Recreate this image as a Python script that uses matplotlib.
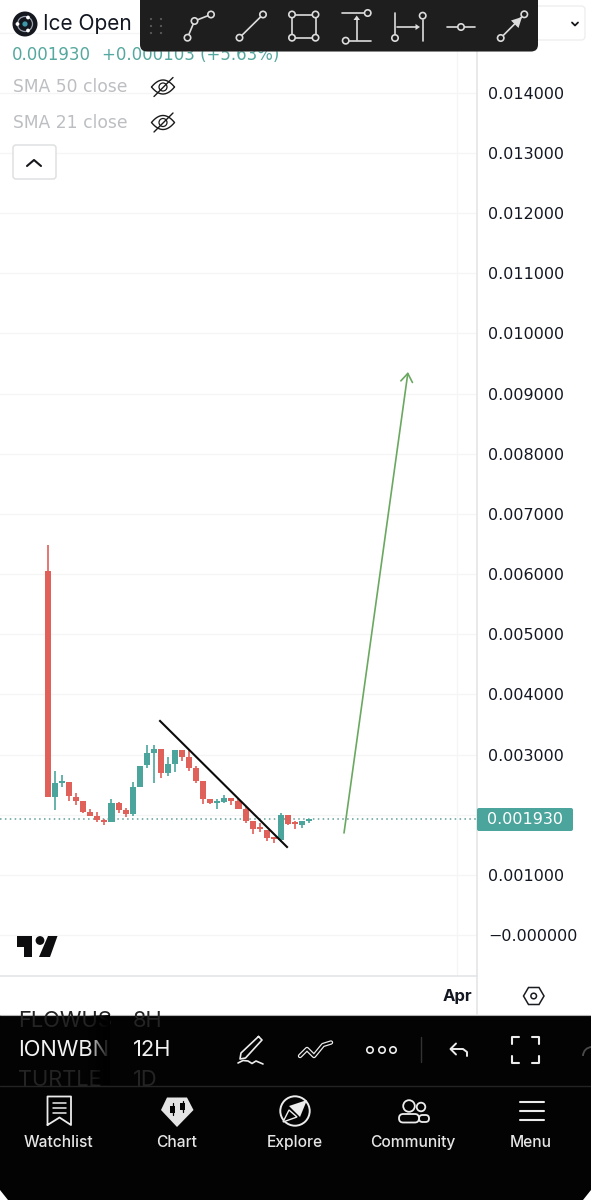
import numpy as np
import matplotlib
matplotlib.use("Agg")
import matplotlib.pyplot as plt
from matplotlib.patches import Circle, FancyBboxPatch, Polygon, Rectangle, Arc

plt.rcParams['font.family'] = ['Inter', 'DejaVu Sans']

W, H = 591, 1200

# candles, prices in thousandths
opens = [6.056, 2.294, 2.527, 2.549, 2.299, 2.233, 2.045, 1.983, 1.912, 1.879,
         2.199, 2.078, 2.012, 2.455, 2.821, 3.031, 3.092, 2.688, 2.838, 3.076,
         2.959, 2.781, 2.565, 2.266, 2.199, 2.206, 2.273, 2.233, 2.100, 1.900,
         1.774, 1.751, 1.608, 1.574, 1.990, 1.857, 1.829, 1.900]
highs = [6.484, 2.727, 2.660, 2.549, 2.361, 2.233, 2.095, 2.045, 1.933, 2.261,
         2.216, 2.116, 2.544, 2.815, 3.159, 3.159, 3.092, 2.964, 3.076, 3.076,
         3.092, 2.815, 2.565, 2.266, 2.266, 2.322, 2.273, 2.256, 2.145, 1.900,
         1.857, 1.751, 1.608, 2.023, 1.990, 1.895, 1.895, 1.929]
lows = [2.294, 2.078, 2.461, 2.228, 2.161, 2.028, 1.978, 1.879, 1.834, 1.879,
        2.033, 1.967, 1.978, 2.455, 2.776, 2.532, 2.615, 2.643, 2.715, 2.893,
        2.731, 2.522, 2.178, 2.178, 2.100, 2.190, 2.166, 2.090, 1.862, 1.679,
        1.717, 1.568, 1.525, 1.551, 1.824, 1.757, 1.779, 1.857]
closes = [2.294, 2.527, 2.549, 2.311, 2.233, 2.045, 1.983, 1.917, 1.874, 2.199,
          2.078, 2.012, 2.455, 2.815, 3.026, 3.097, 2.688, 2.838, 3.076, 2.964,
          2.781, 2.565, 2.261, 2.190, 2.216, 2.273, 2.233, 2.100, 1.900, 1.767,
          1.757, 1.608, 1.591, 1.990, 1.845, 1.840, 1.895, 1.929]

last_price = 1.930
price_ticks = [0, 1, 2, 3, 4, 5, 6, 7, 8, 9, 10, 11, 12, 13, 14]
# the 0.002 label sits behind the last price tag
price_labels = ['\u22120.000000', '0.001000', '', '0.003000', '0.004000',
                '0.005000', '0.006000', '0.007000', '0.008000', '0.009000',
                '0.010000', '0.011000', '0.012000', '0.013000', '0.014000']
month_tick = 58
month_label = 'Apr'

# drawn lines: bar index, price
trend_x = [15.88, 33.88]
trend_y = [3.558, 1.463]
arrow_x = [41.96, 51.03]
arrow_y = [1.696, 9.360]

RED = '#e0605a'
GREEN = '#4ba59c'
GRID = '#f5f5f6'
EDGE = '#e4e5e6'

fig = plt.figure(figsize=(W / 100, H / 100), dpi=100, facecolor='white')

# price pane, x 0-476 and y 0-976 of the screen
ax = fig.add_axes([0, 1 - 976 / H, 476.5 / W, 976 / H])
ax.set_xlim(-6.805, 60.74)
ax.set_ylim(-0.682, 15.544)

ax.set_yticks(price_ticks)
ax.set_yticklabels(price_labels, fontsize=11.5, color='#131722', family='DejaVu Sans')
ax.yaxis.tick_right()
ax.tick_params(axis='y', length=0, pad=8.2)
ax.set_xticks([month_tick])
ax.set_xticklabels([month_label], fontsize=12, fontweight='bold', color='#131722')
ax.tick_params(axis='x', length=0, pad=9.5)
ax.grid(True, color=GRID, lw=1.0)
ax.axhline(15, color=GRID, lw=1.0)
ax.set_axisbelow(True)
for side in ['top', 'left']:
    ax.spines[side].set_visible(False)
for side in ['right', 'bottom']:
    ax.spines[side].set_color(EDGE)
    ax.spines[side].set_linewidth(1.2)

idx = np.arange(len(opens))
o = np.array(opens)
c = np.array(closes)
colors = [GREEN if b >= a else RED for a, b in zip(opens, closes)]
ax.vlines(idx, lows, highs, colors=colors, lw=1.2, zorder=3)
ax.bar(idx, np.maximum(np.abs(c - o), 0.03), bottom=np.minimum(o, c), width=0.86, color=colors, zorder=4)

ax.axhline(last_price, color='#5f9f98', lw=1.1, ls=(0, (1, 2.2)), zorder=2)
ax.plot(trend_x, trend_y, color='#0b0b0b', lw=1.5, zorder=5)
ax.annotate('', xy=(arrow_x[1], arrow_y[1]), xytext=(arrow_x[0], arrow_y[0]), zorder=5,
            arrowprops=dict(arrowstyle='->,head_width=0.42,head_length=0.6', color='#6aa860',
                            lw=1.2, shrinkA=0, shrinkB=0))

# screen furniture in pixel coordinates
ui = fig.add_axes([0, 0, 1, 1], facecolor='none')
ui.set_xlim(0, W)
ui.set_ylim(H, 0)
ui.axis('off')


def line(xs, ys, color='#dcdcdc', lw=1.2, z=12, **kw):
    ui.plot(xs, ys, color=color, lw=lw, zorder=z, solid_capstyle='round', **kw)


def ring(x, y, r=3.2, color='#dcdcdc', fill='#1e1e1e', lw=1.2, z=13):
    ui.add_patch(Circle((x, y), r, fc=fill, ec=color, lw=lw, zorder=z))


# header
ui.add_patch(Circle((25, 24), 12.5, fc='#15191f', zorder=6))
ui.add_patch(Circle((25, 24), 7.5, fc='none', ec='#9aa3ad', lw=0.9, zorder=7))
ui.add_patch(Circle((25, 24), 2.6, fc='#3c9aa8', zorder=7))
for px, py in [(28, 17.5), (17.5, 24), (28, 30.5)]:
    ui.add_patch(Circle((px, py), 1.9, fc='white', zorder=7))
ui.text(43, 24.5, 'Ice Open', fontsize=15, color='#131722', va='center', zorder=6)
ui.text(12, 55.5, '0.001930', fontsize=12, color='#55a89f', va='center', family='DejaVu Sans', zorder=6)
ui.text(102, 55.5, '+0.000103 (+5.63%)', fontsize=12, color='#55a89f', va='center', family='DejaVu Sans', zorder=6)
for ypos, name in [(87, 'SMA 50 close'), (122.5, 'SMA 21 close')]:
    ui.text(13, ypos, name, fontsize=12.3, color='#bcbec2', va='center', family='DejaVu Sans', zorder=6)
    # crossed out eye
    t = np.linspace(-1, 1, 30)
    line(163 + 11.5 * t, ypos + 7 * (1 - t ** 2), color='#1b1b1b', lw=1.0, z=7)
    line(163 + 11.5 * t, ypos - 7 * (1 - t ** 2), color='#1b1b1b', lw=1.0, z=7)
    ui.add_patch(Circle((163, ypos), 4, fc='none', ec='#1b1b1b', lw=0.9, zorder=7))
    line([154, 173], [ypos + 9.5, ypos - 9.5], color='#1b1b1b', lw=1.0, z=7)
ui.add_patch(FancyBboxPatch((13, 145), 43, 34, boxstyle='round,pad=0,rounding_size=3', fc='white', ec='#dfe0e1', lw=1.1, zorder=6))
line([27, 34, 41], [166, 160, 166], color='#15171b', lw=1.5, z=7)

# symbol dropdown behind the toolbar
ui.add_patch(FancyBboxPatch((520, 6), 65, 34, boxstyle='round,pad=0,rounding_size=4', fc='white', ec='#eeeeef', lw=1.0, zorder=6))
line([572, 575, 578], [22.5, 25.5, 22.5], color='#15171b', lw=1.3, z=7)

# drawing toolbar
ui.add_patch(FancyBboxPatch((143, 4), 395, 47.5, boxstyle='round,pad=0,rounding_size=6', fc='#d8d8d8', ec='none', alpha=0.5, zorder=9))
ui.add_patch(FancyBboxPatch((140, -8), 398, 59.5, boxstyle='round,pad=0,rounding_size=7', fc='#1e1e1e', ec='none', zorder=10))
for gx in [151, 161]:
    for gy in [19, 26, 33]:
        ui.add_patch(Circle((gx, gy), 1.1, fc='#5b5b5b', zorder=12))
line([187.5, 194.5, 211], [37.7, 21, 14.5])
for px, py in [(187.5, 37.7), (194.5, 21), (211, 14.5)]:
    ring(px, py)
line([239.5, 263], [37.7, 14.5])
ring(239.5, 37.7)
ring(263, 14.5)
line([292, 315.5, 315.5, 292, 292], [14.5, 14.5, 37.7, 37.7, 14.5])
for px, py in [(292, 14.5), (315.5, 14.5), (315.5, 37.7), (292, 37.7)]:
    ring(px, py)
line([342, 364], [13, 13])
ring(367.7, 13)
line([349, 371], [40.7, 40.7])
ring(345.7, 40.7)
line([356.7, 356.7], [40, 18])
ui.add_patch(Polygon([(356.7, 15.5), (353.5, 20), (360, 20)], fc='#dcdcdc', zorder=12))
line([395, 395], [12.7, 34])
ring(395, 38)
line([422.7, 422.7], [20, 41])
ring(422.7, 15.7)
line([397, 417], [27, 27])
ui.add_patch(Polygon([(420, 27), (415.5, 24), (415.5, 30)], fc='#dcdcdc', zorder=12))
line([446.7, 475], [27, 27])
ring(461, 27)
line([500.7, 524.3], [38, 14.3])
ring(500.7, 38)
ring(524.3, 14.3)
ui.add_patch(Polygon([(522, 17), (511, 20.5), (518.5, 28)], fc='#dcdcdc', zorder=12))

# last price tag
ui.add_patch(FancyBboxPatch((477, 808), 96, 23, boxstyle='round,pad=0,rounding_size=2', fc='#4ba59c', ec='none', zorder=6))
ui.text(525, 819.5, '0.001930', fontsize=11.5, color='white', ha='center', va='center', family='DejaVu Sans', zorder=7)

# tradingview mark
ui.add_patch(Polygon([(16.5, 936), (32, 936), (32, 957), (23.5, 957), (23.5, 947), (16.5, 947)], fc='#0d0d0f', zorder=6))
ui.add_patch(Circle((40, 940.5), 4.4, fc='#0d0d0f', zorder=6))
ui.add_patch(Polygon([(48, 936), (57.5, 936), (50, 957), (39, 957)], fc='#0d0d0f', zorder=6))

# settings hexagon and the price scale edge under the pane
line([476.5, 476.5], [976, 1014], color=EDGE, lw=1.2, z=5)
ui.add_patch(Polygon([(523.5, 996), (528.5, 987.5), (539, 987.5), (544, 996), (539, 1004.5), (528.5, 1004.5)],
                     fc='white', ec='#1a1c20', lw=1.1, zorder=6))
ui.add_patch(Circle((533.7, 996), 2.8, fc='white', ec='#1a1c20', lw=1.1, zorder=7))

# dark bottom panel
ui.add_patch(Rectangle((0, 1014.5), W, 185.5, fc='#030303', ec='none', zorder=6))
line([0, W], [1014.5, 1014.5], color='#b5b5b5', lw=0.8, z=7)
line([0, W], [1086, 1086], color='#232323', lw=1.0, z=10)
for cx in [0, W]:
    ui.add_patch(Polygon([(cx, 1190), (cx, 1200), (cx + (8 if cx == 0 else -8), 1200)], fc='white', ec='none', zorder=7))

clip_sym = Rectangle((0, 1015), 110, 70, transform=ui.transData)
clip_tf = Rectangle((0, 1015), 200, 70, transform=ui.transData)
for tx, ty, sym, tf, col in [(18, 1021, 'FLOWUS', '8H', '#242424'), (18, 1080, 'TURTLE', '1D', '#242424'),
                             (18, 1050.5, 'IONWBN', '12H', '#f2f2f2')]:
    a = ui.text(tx, ty, sym, fontsize=15.8, color=col, va='center', zorder=8)
    a.set_clip_path(clip_sym)
    b = ui.text(133, ty, tf, fontsize=15.8, color=col, va='center', zorder=8)
    b.set_clip_path(clip_tf)
fade = np.zeros((1, 30, 4))
fade[0, :, 3] = np.linspace(0, 1, 30)
ui.imshow(fade, extent=(88, 110, 1085, 1015), aspect='auto', zorder=9)
ui.set_xlim(0, W)
ui.set_ylim(H, 0)

# tool row icons
WH = '#ececec'
line([258.5, 262, 245.5, 240, 241, 258.5], [1036.5, 1040, 1058, 1059, 1053, 1036.5], color=WH, z=8)
line([238, 243, 248, 252, 256, 263], [1063, 1060.5, 1061, 1063.5, 1061, 1064], color=WH, z=8)
line([300, 307, 314, 323, 331], [1056, 1049, 1056, 1045, 1042.5], color=WH, lw=3.2, z=8)
line([300, 307, 314, 323, 331], [1056, 1049, 1056, 1045, 1042.5], color='#030303', lw=1.4, z=9)
for dx in [370, 382, 393]:
    ui.add_patch(Circle((dx, 1050), 3.2, fc='#030303', ec=WH, lw=1.2, zorder=8))
line([420.5, 420.5], [1037, 1062], color='#333333', lw=1.0, z=8)
line([467, 467, 463, 451], [1056, 1052, 1049, 1049], color=WH, lw=1.4, z=8)
line([456, 450.5, 456], [1043.5, 1049, 1054.5], color=WH, lw=1.4, z=8)
for sx, sy in [(-1, -1), (1, -1), (-1, 1), (1, 1)]:
    ex = 525.5 + sx * 13.5
    ey = 1050 + sy * 13
    line([ex - sx * 7, ex, ex], [ey, ey, ey - sy * 7], color=WH, lw=1.5, z=8)
ui.add_patch(Arc((592, 1056), 18, 18, theta1=180, theta2=270, ec='#4a4a4a', lw=1.3, zorder=8))

# nav bar
line([47.5, 47.5, 71, 71, 59.5, 47.5], [1125, 1096.5, 1096.5, 1125, 1117.5, 1125], color=WH, lw=1.3, z=8)
for ly in [1103, 1108, 1113]:
    line([52.5, 66], [ly, ly], color=WH, lw=1.1, z=8)
ui.add_patch(Polygon([(167, 1097.5), (187, 1097.5), (193.5, 1110), (177, 1127), (161, 1110)], fc='#e4e4e4', zorder=8))
for gx, top, bot in [(172.5, 1103, 1115), (182.5, 1100.5, 1112)]:
    line([gx, gx], [top, bot], color='#030303', lw=0.9, z=9)
    ui.add_patch(Rectangle((gx - 2.2, top + 2.5), 4.4, 7, fc='#030303', zorder=9))
ui.add_patch(Circle((295, 1111), 14.7, fc='#030303', ec=WH, lw=1.4, zorder=8))
ui.add_patch(Polygon([(307, 1100), (300, 1117), (289, 1106)], fc=WH, zorder=9))
ui.add_patch(Polygon([(289, 1110), (297, 1117), (283, 1122)], fc='#030303', ec=WH, lw=1.0, zorder=9))
ui.add_patch(Circle((409, 1106), 5.8, fc='#030303', ec=WH, lw=1.3, zorder=8))
ui.add_patch(Circle((421, 1107), 4.3, fc='#030303', ec=WH, lw=1.3, zorder=8))
ui.add_patch(FancyBboxPatch((419, 1115), 10, 7, boxstyle='round,pad=0,rounding_size=3.5', fc='#030303', ec=WH, lw=1.3, zorder=8))
ui.add_patch(FancyBboxPatch((399, 1114), 20, 8.5, boxstyle='round,pad=0,rounding_size=4.2', fc='#030303', ec=WH, lw=1.3, zorder=9))
for ly in [1101.7, 1110.7, 1119.7]:
    line([519.5, 543.5], [ly, ly], color=WH, lw=1.5, z=8)
for lx, name in [(58.5, 'Watchlist'), (177, 'Chart'), (295, 'Explore'), (413, 'Community'), (531, 'Menu')]:
    ui.text(lx, 1142.5, name, fontsize=11.2, fontweight='medium', color='#e6e6e6', ha='center', va='center', zorder=8)

fig.savefig('out.png', dpi=100, facecolor='white')
